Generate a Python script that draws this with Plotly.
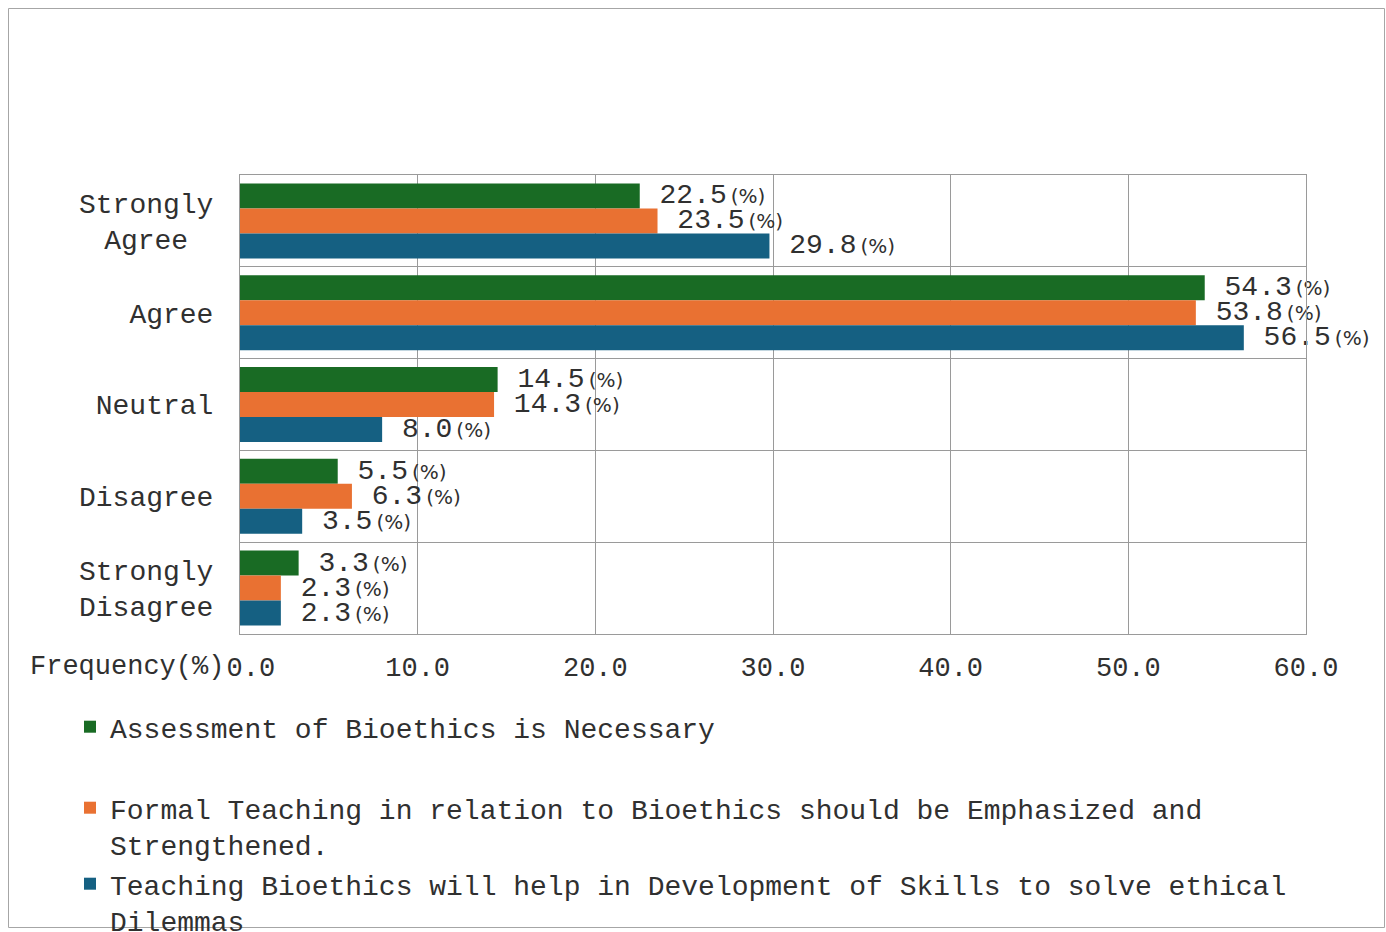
import plotly.graph_objects as go

categories = ["Strongly Agree", "Agree", "Neutral", "Disagree", "Strongly Disagree"]
tick_text = ["Strongly<br>Agree\u00a0<span style='font-size:14px'>\u00a0</span>", "Agree", "Neutral", "Disagree", "Strongly<br>Disagree"]
series_names = [
    "Assessment of Bioethics is Necessary",
    "Formal Teaching in relation to Bioethics should be Emphasized and<br>Strengthened.",
    "Teaching Bioethics will help in Development of Skills to solve ethical<br>Dilemmas",
]
assessment = [22.5, 54.3, 14.5, 5.5, 3.3]
formal_teaching = [23.5, 53.8, 14.3, 6.3, 2.3]
skills = [29.8, 56.5, 8.0, 3.5, 2.3]
x_ticks = [0, 10, 20, 30, 40, 50, 60]
x_tick_labels = ["<span style='font-size:18px'>\u00a0\u00a0</span>0.0", "10.0", "20.0", "30.0", "40.0", "50.0", "60.0"]

colors = ["#196B24", "#E97132", "#156082"]
values = [assessment, formal_teaching, skills]
legends = ["legend", "legend2", "legend3"]

MONO = "Liberation Mono, Courier New, monospace"
TXT = "#303030"
W, H = 1386, 932
L, R, T, B = 240, 80, 175, 298
pw, ph = W - L - R, H - T - B

def px_x(x):
    return (x - L) / pw

def px_y(y):
    return (H - B - y) / ph

fig = go.Figure()
for name, vals, col, lg in zip(series_names, values, colors, legends):
    fig.add_trace(go.Bar(
        y=categories, x=vals, orientation="h", name=name,
        marker=dict(color=col, line=dict(width=0)),
        texttemplate="\u00a0%{x:.1f}<span style='font-family:DejaVu Sans;font-size:20px'>\u2009(%)</span>",
        textposition="outside", constraintext="none", cliponaxis=False,
        outsidetextfont=dict(family=MONO, size=28, color=TXT),
        legend=lg, hoverinfo="skip",
    ))

legend_common = dict(
    font=dict(family=MONO, size=28, color=TXT),
    bgcolor="rgba(0,0,0,0)", borderwidth=0, valign="top",
    xanchor="left", yanchor="top", itemclick=False,
)
fig.update_layout(
    width=W, height=H,
    margin=dict(l=L, r=R, t=T, b=B, pad=0, autoexpand=False),
    paper_bgcolor="white", plot_bgcolor="white",
    barmode="group", bargap=0.183, bargroupgap=0,
    showlegend=True,
    legend=dict(x=px_x(70), y=px_y(702), **legend_common),
    legend2=dict(x=px_x(70), y=px_y(783), **legend_common),
    legend3=dict(x=px_x(70), y=px_y(859), **legend_common),
    xaxis=dict(
        range=[0, 60], tickvals=x_ticks, ticktext=x_tick_labels,
        showgrid=True, gridcolor="#9A9A9A", gridwidth=1,
        showline=True, linecolor="#9A9A9A", linewidth=1, mirror=True,
        ticks="", zeroline=False, fixedrange=True, ticklabelstandoff=9,
        tickfont=dict(family=MONO, size=27, color=TXT),
    ),
    yaxis=dict(
        categoryorder="array", categoryarray=categories, autorange="reversed",
        tickvals=categories, ticktext=tick_text, tickson="boundaries",
        showgrid=True, gridcolor="#9A9A9A", gridwidth=1,
        showline=True, linecolor="#9A9A9A", linewidth=1, mirror=True,
        ticks="", ticklabelstandoff=20, fixedrange=True,
        tickfont=dict(family=MONO, size=28, color=TXT),
    ),
    annotations=[dict(
        text="Frequency(%)", xref="paper", yref="paper",
        x=px_x(226), y=px_y(667), xanchor="right", yanchor="middle",
        showarrow=False, font=dict(family=MONO, size=27, color=TXT),
    )],
    shapes=[dict(
        type="rect", xref="paper", yref="paper",
        x0=px_x(8.5), x1=px_x(1384.5), y0=px_y(927.5), y1=px_y(8.5),
        line=dict(color="#A6A6A6", width=1), fillcolor="rgba(0,0,0,0)", layer="below",
    )],
)

fig.write_html("out.html")
